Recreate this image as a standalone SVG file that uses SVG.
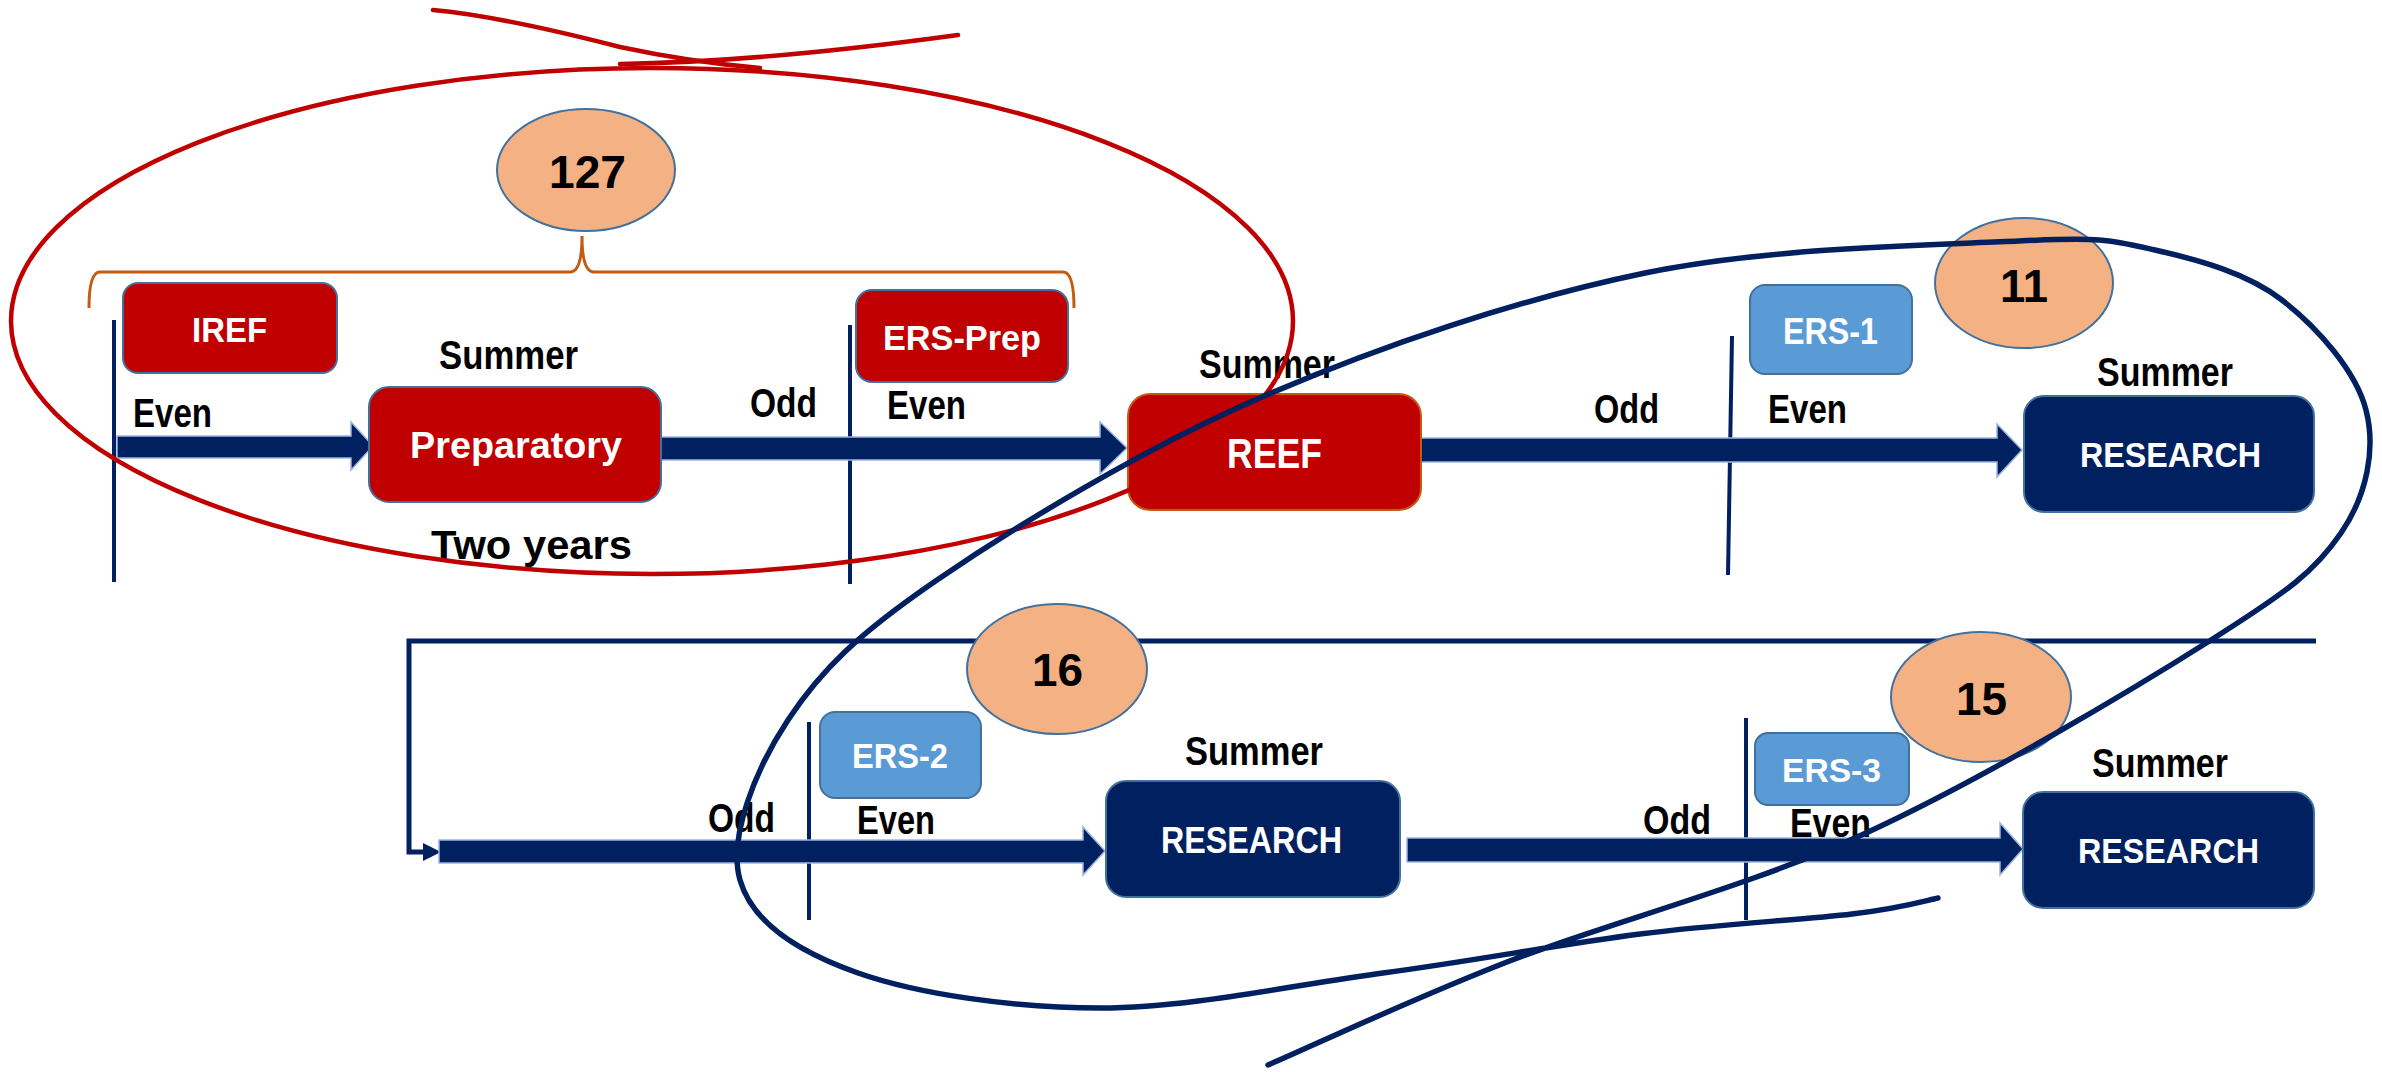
<svg xmlns="http://www.w3.org/2000/svg" width="2382" height="1072" viewBox="0 0 2382 1072">
<style>
.bg{fill:#ffffff}
.vline{stroke:#002060;stroke-width:4;fill:none}
.arrow{fill:#002060;stroke:#9DB4DE;stroke-width:1.5;stroke-linejoin:miter}
.conn{stroke:#002060;stroke-width:5;fill:none}
.red{fill:#C00000;stroke:#41719C;stroke-width:2}
.reef{fill:#C00000;stroke:#C55A11;stroke-width:2}
.lblue{fill:#5B9BD5;stroke:#41719C;stroke-width:2}
.navy{fill:#002060;stroke:#41719C;stroke-width:2}
.circ{fill:#F4B183;stroke:#41719C;stroke-width:2}
.brace{stroke:#C55A11;stroke-width:3;fill:none}
.lbl{font-family:"Liberation Sans",Arial,sans-serif;font-weight:bold;font-size:40px;fill:#000000}
.wt{font-family:"Liberation Sans",Arial,sans-serif;font-weight:bold;font-size:35px;fill:#ffffff}
.num{font-family:"Liberation Sans",Arial,sans-serif;font-weight:bold;font-size:46px;fill:#000000}
.redpen{stroke:#C00000;stroke-width:4.5;fill:none;stroke-linecap:round}
.bluepen{stroke:#002060;stroke-width:5.5;fill:none;stroke-linecap:round;stroke-linejoin:round}
</style>
<rect class="bg" x="0" y="0" width="2382" height="1072"/>

<g id="connectors">
  <line class="vline" x1="114" y1="320" x2="114" y2="582"/>
  <line class="vline" x1="850" y1="325" x2="850" y2="584"/>
  <line class="vline" x1="1732" y1="336" x2="1728" y2="575"/>
  <line class="vline" x1="809" y1="722" x2="809" y2="920"/>
  <line class="vline" x1="1746" y1="718" x2="1746" y2="920"/>
  <polygon class="arrow" points="117,436 351,436 351,422 373,446 351,470 351,458 117,458"/>
  <polygon class="arrow" points="661,437 1100,437 1100,422 1127,448 1100,474 1100,460 661,460"/>
  <polygon class="arrow" points="1421,438 1997,438 1997,424 2022,450 1997,477 1997,462 1421,462"/>
  <path class="conn" d="M2316,641 L409,641 L409,852 L426,852"/>
  <polygon fill="#002060" points="423,843 441,852 423,861"/>
  <polygon class="arrow" points="439,840 1083,840 1083,827 1105,851 1083,875 1083,863 439,863"/>
  <polygon class="arrow" points="1407,838 2000,838 2000,823 2023,849 2000,875 2000,862 1407,862"/>
  <path class="brace" d="M89,308 Q89,272 100,272 L570,272 Q582,272 582,236 Q582,272 594,272 L1063,272 Q1074,272 1074,308"/>
</g>

<g id="node-127">
  <ellipse class="circ" cx="586" cy="170" rx="89" ry="61"/>
  <text class="num" x="549" y="188" textLength="77" lengthAdjust="spacingAndGlyphs">127</text>
</g>
<g id="node-iref">
  <rect class="red" x="123" y="283" width="214" height="90" rx="15"/>
  <text class="wt" x="192" y="342" textLength="75" lengthAdjust="spacingAndGlyphs">IREF</text>
</g>
<g id="node-preparatory">
  <rect class="red" x="369" y="387" width="292" height="115" rx="20"/>
  <text class="wt" x="410" y="458" style="font-size:36px" textLength="212" lengthAdjust="spacingAndGlyphs">Preparatory</text>
</g>
<g id="node-ersprep">
  <rect class="red" x="856" y="290" width="212" height="92" rx="16"/>
  <text class="wt" x="883" y="350" textLength="158" lengthAdjust="spacingAndGlyphs">ERS-Prep</text>
</g>
<g id="node-reef">
  <rect class="reef" x="1128" y="394" width="293" height="116" rx="22"/>
  <text class="wt" x="1227" y="468" style="font-size:42px" textLength="95" lengthAdjust="spacingAndGlyphs">REEF</text>
</g>
<g id="node-ers1">
  <rect class="lblue" x="1750" y="285" width="162" height="89" rx="15"/>
  <text class="wt" x="1783" y="344" style="font-size:36px" textLength="95" lengthAdjust="spacingAndGlyphs">ERS-1</text>
</g>
<g id="node-11">
  <ellipse class="circ" cx="2024" cy="283" rx="89" ry="65"/>
  <text class="num" x="2000" y="302" textLength="48" lengthAdjust="spacingAndGlyphs">11</text>
</g>
<g id="node-research1">
  <rect class="navy" x="2024" y="396" width="290" height="116" rx="20"/>
  <text class="wt" x="2080" y="467" textLength="181" lengthAdjust="spacingAndGlyphs">RESEARCH</text>
</g>
<g id="node-16">
  <ellipse class="circ" cx="1057" cy="669" rx="90" ry="65"/>
  <text class="num" x="1032" y="686" textLength="51" lengthAdjust="spacingAndGlyphs">16</text>
</g>
<g id="node-ers2">
  <rect class="lblue" x="820" y="712" width="161" height="86" rx="15"/>
  <text class="wt" x="852" y="768" textLength="96" lengthAdjust="spacingAndGlyphs">ERS-2</text>
</g>
<g id="node-research2">
  <rect class="navy" x="1106" y="781" width="294" height="116" rx="20"/>
  <text class="wt" x="1161" y="853" style="font-size:36px" textLength="181" lengthAdjust="spacingAndGlyphs">RESEARCH</text>
</g>
<g id="node-15">
  <ellipse class="circ" cx="1981" cy="697" rx="90" ry="65"/>
  <text class="num" x="1956" y="715" textLength="51" lengthAdjust="spacingAndGlyphs">15</text>
</g>
<g id="node-ers3">
  <rect class="lblue" x="1755" y="733" width="154" height="72" rx="13"/>
  <text class="wt" x="1782" y="782" style="font-size:34px" textLength="99" lengthAdjust="spacingAndGlyphs">ERS-3</text>
</g>
<g id="node-research3">
  <rect class="navy" x="2023" y="792" width="291" height="116" rx="20"/>
  <text class="wt" x="2078" y="863" textLength="181" lengthAdjust="spacingAndGlyphs">RESEARCH</text>
</g>

<g id="labels">
  <text class="lbl" x="439" y="369" textLength="139" lengthAdjust="spacingAndGlyphs">Summer</text>
  <text class="lbl" x="1199" y="378" textLength="136" lengthAdjust="spacingAndGlyphs">Summer</text>
  <text class="lbl" x="2097" y="386" textLength="136" lengthAdjust="spacingAndGlyphs">Summer</text>
  <text class="lbl" x="1185" y="765" textLength="138" lengthAdjust="spacingAndGlyphs">Summer</text>
  <text class="lbl" x="2092" y="777" textLength="136" lengthAdjust="spacingAndGlyphs">Summer</text>
  <text class="lbl" x="133" y="427" textLength="79" lengthAdjust="spacingAndGlyphs">Even</text>
  <text class="lbl" x="750" y="417" textLength="67" lengthAdjust="spacingAndGlyphs">Odd</text>
  <text class="lbl" x="887" y="419" textLength="79" lengthAdjust="spacingAndGlyphs">Even</text>
  <text class="lbl" x="1594" y="423" textLength="65" lengthAdjust="spacingAndGlyphs">Odd</text>
  <text class="lbl" x="1768" y="423" textLength="79" lengthAdjust="spacingAndGlyphs">Even</text>
  <text class="lbl" x="708" y="832" textLength="67" lengthAdjust="spacingAndGlyphs">Odd</text>
  <text class="lbl" x="857" y="834" textLength="78" lengthAdjust="spacingAndGlyphs">Even</text>
  <text class="lbl" x="1643" y="834" textLength="68" lengthAdjust="spacingAndGlyphs">Odd</text>
  <text class="lbl" x="1790" y="837" textLength="81" lengthAdjust="spacingAndGlyphs">Even</text>
  <text class="lbl" x="431" y="559" textLength="201" lengthAdjust="spacingAndGlyphs">Two years</text>
</g>

<g id="annotations">
  <ellipse class="redpen" cx="652" cy="321" rx="641" ry="253"/>
  <path class="redpen" d="M433,10 Q500,16 620,47 Q690,62 760,68"/>
  <path class="redpen" d="M620,64 Q760,62 958,35"/>
  <path class="bluepen" d="M1268,1065 C1308,1048 1407,1001 1507,962 C1607,923 1749,887 1866,833 C1983,779 2132,690 2211,640 C2290,590 2315,571 2341,533 C2367,495 2376,449 2366,410 C2356,371 2317,327 2282,300 C2247,273 2199,260 2155,250 C2111,240 2104,237 2019,241 C1934,245 1771,247 1645,273 C1519,299 1380,346 1262,397 C1144,448 1016,526 937,580 C858,634 821,670 788,720 C755,770 728,838 740,880 C752,922 798,952 858,973 C918,994 1013,1008 1101,1008 C1189,1008 1293,985 1383,973 C1473,961 1562,944 1640,934 C1718,924 1802,920 1852,914 C1902,908 1924,901 1938,898"/>
</g>
</svg>
